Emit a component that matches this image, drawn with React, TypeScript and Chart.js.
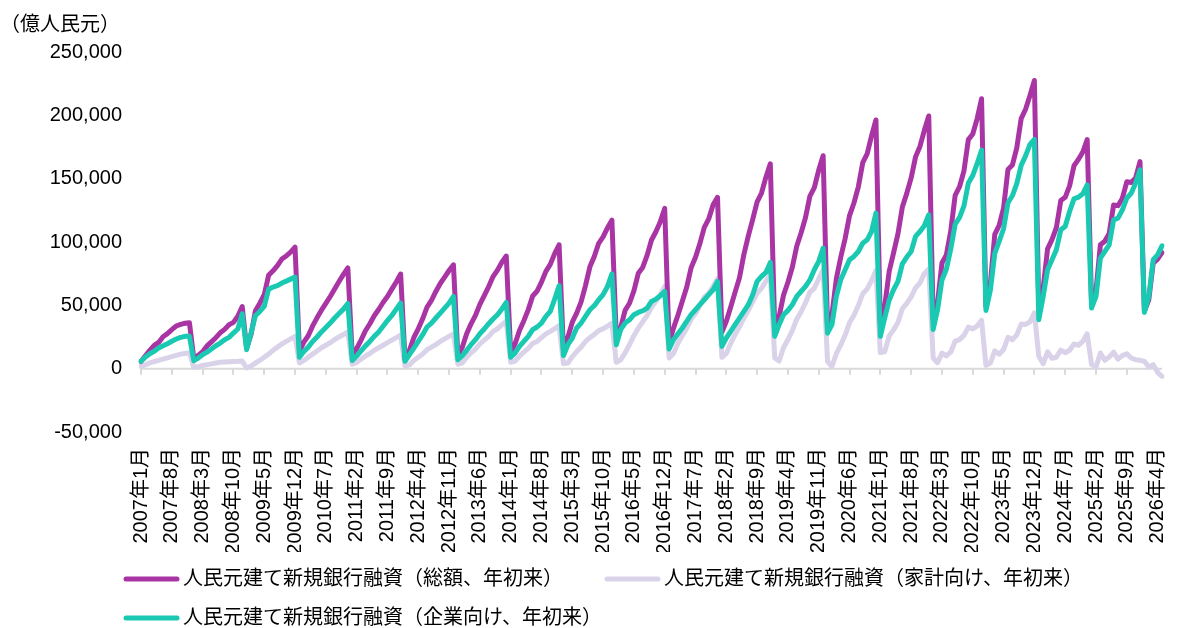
import React, { useEffect, useRef } from 'react';
import { Chart, registerables } from 'chart.js';

Chart.register(...registerables);

const FONT = "'Liberation Sans', 'Noto Sans CJK JP', sans-serif";

// Month categories: 2007年1月 … 2026年5月
const monthLabels: string[] = [];
for (let y = 2007; y <= 2026; y++) {
  for (let m = 1; m <= 12; m++) {
    if (y === 2026 && m > 5) break;
    monthLabels.push(`${y}年${m}月`);
  }
}

// 人民元建て新規銀行融資（総額、年初来） 億人民元
const totalLoans = [
  5670, 10092, 14510, 18457, 20732, 25247, 27690, 30812, 33653, 35014, 35848, 36323,
  8034, 10477, 13311, 17956, 21141, 24457, 28314, 31029, 34731, 36542, 41311, 49029,
  16200, 26900, 45800, 51718, 58363, 73667, 77226, 81330, 86497, 89027, 91976, 95940,
  13900, 20901, 26008, 33748, 40142, 46176, 51504, 56956, 62911, 68788, 74428, 79500,
  10400, 15756, 22550, 29946, 35462, 41801, 46726, 52211, 56911, 62779, 68401, 74700,
  7381, 14488, 24602, 31420, 39352, 48550, 53951, 60990, 67222, 72275, 77504, 82000,
  10700, 16900, 27500, 35429, 42103, 50708, 57707, 64842, 72711, 77772, 84018, 88900,
  13200, 19645, 30145, 37892, 46600, 57400, 61252, 68277, 76849, 82332, 90859, 97800,
  14700, 24900, 36700, 43779, 52787, 65587, 80387, 88483, 98983, 104119, 111208, 117200,
  25100, 32366, 46066, 51622, 61477, 75277, 79913, 89400, 101600, 108113, 116059, 126500,
  20300, 32000, 42200, 53200, 64300, 79700, 87955, 98855, 111555, 118187, 129387, 135300,
  29000, 37393, 48593, 60393, 71893, 90293, 104793, 117893, 131693, 138663, 151163, 161700,
  32300, 41158, 58058, 68258, 80058, 96658, 107258, 119358, 136258, 142871, 156771, 168100,
  33400, 42457, 70957, 87957, 102757, 120857, 130784, 143584, 162584, 169482, 183782, 196300,
  35800, 49400, 76700, 91400, 106400, 127600, 138400, 150600, 167200, 175462, 188162, 199500,
  39800, 52100, 83400, 89854, 108754, 136854, 143644, 156144, 180844, 185275, 197375, 213100,
  49000, 67100, 106000, 113188, 126788, 157288, 160747, 174347, 197447, 204831, 215731, 227500,
  49200, 63700, 94600, 101900, 111400, 132700, 135300, 144300, 160200, 165200, 171000, 180900,
  51300, 61400, 97800, 100600, 106800, 129200, 128700, 134600, 147500, 147000, 150500, 163500,
  45500, 54400, 83300, 86500, 91700,
];

// 人民元建て新規銀行融資（家計向け、年初来）
const householdLoans = [
  1800, 3000, 4500, 5500, 6500, 7500, 8500, 9500, 10500, 11500, 12000, 12500,
  1000, 1500, 2500, 3200, 3800, 4500, 5000, 5300, 5500, 5700, 5800, 6000,
  500, 2000, 4500, 6500, 9000, 11500, 14500, 17000, 19500, 21500, 23500, 25500,
  4500, 6500, 9000, 11500, 14000, 16500, 18500, 20500, 23000, 25000, 27000, 29000,
  3500, 5000, 7500, 10000, 12000, 14500, 16500, 18500, 20500, 22500, 24500, 26500,
  2000, 3000, 6500, 9000, 11500, 15000, 17000, 19000, 21500, 23500, 25500, 27500,
  3500, 4500, 9000, 12500, 15500, 19500, 22500, 25500, 29500, 31500, 34500, 37500,
  5000, 6000, 10000, 13000, 16000, 20000, 21500, 24500, 27500, 29500, 31500, 34000,
  4000, 4500, 9500, 13500, 17000, 21500, 24500, 27000, 30000, 31500, 33500, 36000,
  5000, 7000, 12500, 19000, 26000, 32000, 37000, 42000, 48500, 53000, 58500, 65000,
  8500, 12000, 20000, 26000, 32000, 39000, 43500, 50000, 56500, 59500, 65000, 71000,
  9000, 12000, 20000, 27000, 33000, 40000, 46000, 53000, 59500, 63500, 69000, 74000,
  8500, 6000, 16500, 23000, 30000, 39000, 45000, 52000, 60500, 63500, 71000, 78000,
  5800, 1700, 11900, 18700, 26500, 36400, 42100, 49900, 59200, 62900, 69500, 77500,
  12700, 13400, 25800, 30600, 36400, 47400, 51500, 56700, 63800, 67600, 75000, 78800,
  8430, 4700, 12300, 10100, 13200, 21700, 22900, 26300, 32800, 31400, 33600, 38300,
  2600, 4400, 14000, 11400, 15100, 24800, 22800, 26700, 35200, 34900, 37000, 44000,
  9800, 3900, 13300, 8200, 9000, 14700, 12600, 14500, 19500, 18500, 21500, 27500,
  3200, 1300, 12400, 6600, 9200, 13100, 7600, 10300, 11800, 8400, 7100, 6600,
  5800, 1300, 3200, -2900, -6000,
];

// 人民元建て新規銀行融資（企業向け、年初来）
const corporateLoans = [
  5800, 9200, 11800, 13700, 16300, 18100, 19700, 21600, 23400, 24700, 25500, 25500,
  6300, 8400, 11000, 13100, 15500, 18100, 20200, 22900, 24700, 28100, 31300, 43400,
  15000, 28100, 41800, 45200, 49200, 62800, 64400, 65500, 67600, 69100, 70700, 72300,
  9000, 13500, 17000, 21500, 25000, 29000, 32500, 36000, 40000, 43500, 47000, 51500,
  6500, 10000, 14000, 18000, 21500, 25500, 29000, 33500, 38000, 42000, 47000, 51800,
  5800, 11000, 16300, 21600, 26800, 32900, 36000, 40000, 43900, 47800, 51800, 57000,
  7000, 10300, 14500, 18900, 22900, 27600, 31300, 35500, 39200, 42600, 47100, 52300,
  9000, 12400, 17600, 21600, 25500, 30800, 32900, 36000, 41300, 45200, 55000, 65500,
  10300, 18900, 24200, 32100, 36000, 41300, 46500, 49700, 54400, 58400, 64900, 74900,
  18900, 30800, 36000, 38600, 42600, 44400, 45700, 47800, 53100, 54900, 57600, 61000,
  15500, 22900, 27600, 32100, 37300, 42600, 46500, 50500, 54400, 58400, 62300, 68900,
  17600, 24200, 29400, 34700, 40000, 45200, 50500, 58400, 68900, 72800, 76000, 83900,
  25500, 34700, 42600, 46000, 50500, 57000, 61000, 64900, 70200, 78100, 84700, 95200,
  28000, 34700, 57000, 70200, 78100, 86000, 88600, 92500, 99100, 101700, 108300, 122800,
  25500, 40000, 54000, 62300, 68900, 82800, 88100, 92500, 104400, 108300, 112800, 121500,
  31000, 46500, 70000, 78500, 94500, 114000, 119500, 128500, 146500, 152500, 162000, 172500,
  46000, 62000, 91000, 100500, 110500, 131000, 136500, 146000, 160500, 168000, 177000, 181000,
  38600, 57000, 78100, 86000, 93900, 109600, 112300, 124100, 134100, 135400, 138000, 145100,
  47800, 57000, 87300, 92500, 97800, 117500, 118800, 125400, 134600, 138500, 146400, 157000,
  44400, 57000, 86000, 89900, 97000,
];

const seriesNames = [
  '人民元建て新規銀行融資（総額、年初来）',
  '人民元建て新規銀行融資（家計向け、年初来）',
  '人民元建て新規銀行融資（企業向け、年初来）',
];
const seriesColors = ['#A935A5', '#D9D2E9', '#19C9B1'];
const unitLabel = '（億人民元）';
const yMin = -50000;
const yMax = 250000;
const yStep = 50000;
const labelEvery = 7;

const decorPlugin = {
  id: 'decor',
  beforeDatasetsDraw(chart: any) {
    const { ctx, scales } = chart;
    const x = scales.x;
    const y0 = scales.y.getPixelForValue(0);
    ctx.save();
    ctx.strokeStyle = '#D9D9D9';
    ctx.lineWidth = 2;
    ctx.beginPath();
    ctx.moveTo(x.left, y0);
    ctx.lineTo(x.right, y0);
    for (let i = 0; i < monthLabels.length; i += labelEvery) {
      const px = Math.round(x.getPixelForValue(i));
      ctx.moveTo(px, y0);
      ctx.lineTo(px, y0 + 6);
    }
    ctx.stroke();
    ctx.restore();
  },
  afterDraw(chart: any) {
    const { ctx } = chart;
    ctx.save();
    ctx.fillStyle = '#000';
    ctx.font = `20px ${FONT}`;
    ctx.textBaseline = 'middle';
    ctx.textAlign = 'left';
    ctx.fillText(unitLabel, 0, 25);
    // legend
    const items = [
      { x: 123, y: 579, i: 0 },
      { x: 604, y: 579, i: 1 },
      { x: 123, y: 618, i: 2 },
    ];
    for (const it of items) {
      ctx.strokeStyle = seriesColors[it.i];
      ctx.lineWidth = 5;
      ctx.lineCap = 'round';
      ctx.beginPath();
      ctx.moveTo(it.x + 3, it.y);
      ctx.lineTo(it.x + 54, it.y);
      ctx.stroke();
      ctx.fillStyle = '#000';
      ctx.fillText(seriesNames[it.i], it.x + 60, it.y);
    }
    ctx.restore();
  },
};

export default function App() {
  const ref = useRef<HTMLCanvasElement | null>(null);
  useEffect(() => {
    if (!ref.current) return;
    const mk = (idx: number, data: number[], order: number) => ({
      label: seriesNames[idx],
      data,
      borderColor: seriesColors[idx],
      backgroundColor: seriesColors[idx],
      borderWidth: 5,
      pointRadius: 0,
      pointHoverRadius: 0,
      tension: 0,
      borderJoinStyle: 'round' as const,
      borderCapStyle: 'round' as const,
      order,
    });
    const chart = new Chart(ref.current, {
      type: 'line',
      data: {
        labels: monthLabels,
        datasets: [
          mk(0, totalLoans, 2),
          mk(1, householdLoans, 3),
          mk(2, corporateLoans, 1),
        ],
      },
      options: {
        responsive: false,
        animation: false,
        devicePixelRatio: 1,
        layout: { padding: { left: 0, top: 52, right: 10, bottom: 76 } },
        plugins: {
          legend: { display: false },
          tooltip: { enabled: false },
          title: { display: false },
        },
        scales: {
          x: {
            type: 'category',
            offset: false,
            grid: { display: false, drawTicks: false, tickLength: 0 },
            border: { display: false },
            afterFit: (s: any) => { s.height = 120; },
            ticks: {
              autoSkip: false,
              maxRotation: 90,
              minRotation: 90,
              padding: 16,
              color: '#000',
              font: { family: FONT, size: 20 },
              callback: (_v: any, i: number) => (i % labelEvery === 0 ? monthLabels[i] : ''),
            },
          },
          y: {
            min: yMin,
            max: yMax,
            grid: { display: false, drawTicks: false, tickLength: 0 },
            border: { display: false },
            afterFit: (s: any) => { s.width = 141; },
            ticks: {
              stepSize: yStep,
              padding: 19,
              color: '#000',
              font: { family: FONT, size: 20 },
              callback: (v: any) => Number(v).toLocaleString('en-US'),
            },
          },
        },
      },
      plugins: [decorPlugin],
    });
    return () => chart.destroy();
  }, []);
  return (
    <div style={{ position: 'absolute', left: 0, top: 0, width: 1202, height: 628, background: '#fff' }}>
      <canvas ref={ref} width={1202} height={628} style={{ display: 'block', width: 1202, height: 628 }} />
    </div>
  );
}
